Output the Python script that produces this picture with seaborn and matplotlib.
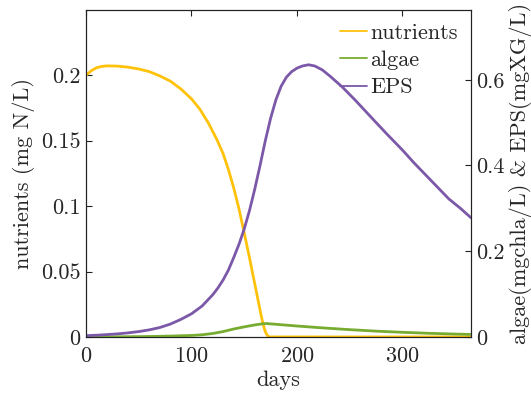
"""
Nutrients, algae and EPS over one year, two y-axes.
"""

import matplotlib
matplotlib.use("Agg")
import matplotlib.pyplot as plt
import seaborn as sns
from matplotlib.lines import Line2D

# nutrients (left axis, mg N/L)
nut_days = [0, 5, 10, 15, 20, 30, 40, 50, 60, 70, 80, 90, 100, 108, 116, 124,
            130, 135, 140, 145, 150, 155, 160, 163, 166, 168, 170, 172, 174,
            200, 250, 300, 365]
nutrients = [0.200, 0.2035, 0.2058, 0.2068, 0.2072, 0.2070, 0.2062, 0.2048,
             0.2028, 0.1995, 0.1955, 0.1895, 0.1820, 0.1740, 0.1635, 0.1510,
             0.1400, 0.1280, 0.1140, 0.0980, 0.0795, 0.0605, 0.0405, 0.0285,
             0.0165, 0.0095, 0.0040, 0.0010, 0.0, 0.0, 0.0, 0.0, 0.0]

# algae (right axis, mg chla/L)
alg_days = [0, 20, 40, 60, 80, 100, 110, 120, 130, 140, 150, 160, 165, 168,
            171, 175, 185, 200, 225, 250, 275, 300, 325, 350, 365]
algae = [0.0, 0.0002, 0.0005, 0.001, 0.002, 0.0035, 0.005, 0.008, 0.0125,
         0.0185, 0.0235, 0.0280, 0.0298, 0.0308, 0.0312, 0.0305, 0.0285, 0.0255,
         0.0210, 0.0170, 0.0135, 0.0108, 0.0085, 0.0067, 0.0058]

# EPS (right axis, mg XG/L)
eps_days = [0, 10, 20, 30, 40, 50, 60, 70, 80, 90, 100, 110, 120, 125, 130,
            135, 140, 145, 150, 155, 160, 165, 170, 175, 180, 185, 190, 195,
            200, 205, 211, 217, 224, 232, 243, 255, 269, 285, 300, 311, 322,
            333, 344, 355, 365]
eps = [0.003, 0.004, 0.0055, 0.0072, 0.0095, 0.0125, 0.0165, 0.022, 0.030,
       0.041, 0.054, 0.072, 0.098, 0.114, 0.133, 0.156, 0.185, 0.216, 0.252,
       0.295, 0.345, 0.400, 0.458, 0.510, 0.553, 0.585, 0.606, 0.619, 0.627,
       0.632, 0.635, 0.632, 0.623, 0.607, 0.583, 0.553, 0.516, 0.474, 0.436,
       0.406, 0.378, 0.350, 0.322, 0.300, 0.278]

c_nut = "#FFC20A"
c_alg = "#77AC30"
c_eps = "#7B58A8"

sns.set_style("white")
plt.rcParams["font.family"] = ["serif"]
plt.rcParams["font.serif"] = ["cmr10", "DejaVu Serif"]
plt.rcParams["mathtext.fontset"] = "cm"
plt.rcParams["axes.formatter.use_mathtext"] = True
fs = 16

fig = plt.figure(figsize=(5.31, 3.95), dpi=100)
ax = fig.add_axes([0.162, 0.147, 0.725, 0.828])
ax2 = ax.twinx()

sns.lineplot(x=nut_days, y=nutrients, ax=ax, color=c_nut, lw=2)
sns.lineplot(x=alg_days, y=algae, ax=ax2, color=c_alg, lw=2)
sns.lineplot(x=eps_days, y=eps, ax=ax2, color=c_eps, lw=2)

ax.set_xlim(0, 365)
ax.set_ylim(0, 0.25)
ax2.set_ylim(0, 0.763)
ax.set_xticks([0, 100, 200, 300])
ax.set_yticks([0, 0.05, 0.1, 0.15, 0.2])
ax.set_yticklabels(["0", "0.05", "0.1", "0.15", "0.2"])
ax2.set_yticks([0, 0.2, 0.4, 0.6])
ax2.set_yticklabels(["0", "0.2", "0.4", "0.6"])

ax.tick_params(axis="y", direction="in", length=4, width=0.8, labelsize=fs,
               right=False, pad=4, color="#222222")
ax.tick_params(axis="x", direction="in", length=4, width=0.8, labelsize=fs,
               top=True, pad=7, color="#222222")
ax2.tick_params(direction="in", length=4, width=0.8, labelsize=fs, pad=4,
                color="#222222")
for a in (ax, ax2):
    for s in a.spines.values():
        s.set_color("#222222")
        s.set_linewidth(0.8)

ax.set_xlabel("days", fontsize=fs, labelpad=3)
ax.set_ylabel("nutrients (mg N/L)", fontsize=fs, labelpad=4)
ax2.set_ylabel("algae(mgchla/L) & EPS(mgXG/L)", fontsize=fs, labelpad=3)

handles = [Line2D([], [], color=c, lw=1.3) for c in (c_nut, c_alg, c_eps)]
ax2.legend(handles, ["nutrients", "algae", "EPS"], loc="upper right",
           frameon=False, fontsize=fs, handlelength=1.2, handletextpad=0.15,
           labelspacing=0.35, borderaxespad=0.3, borderpad=0.3)

fig.savefig("out.png", dpi=100)
